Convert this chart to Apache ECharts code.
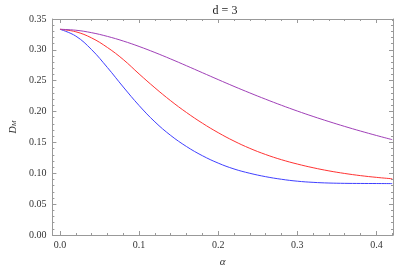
<!DOCTYPE html>
<html><head><meta charset="utf-8">
<script src="https://cdn.jsdelivr.net/npm/echarts@6/dist/echarts.min.js"></script>
<style>html,body{margin:0;padding:0;background:#fff}#c{width:399px;height:273px}</style>
</head><body><div id="c"></div>
<script>
const alpha = [0,0.02,0.04,0.06,0.08,0.10,0.12,0.14,0.16,0.18,0.20,0.22,0.24,0.26,0.28,0.30,0.32,0.34,0.36,0.38,0.40,0.42];
const blueVals = [0.3333,0.3223,0.3003,0.2713,0.2398,0.2098,0.1833,0.1613,0.1433,0.1285,0.1165,0.1070,0.1000,0.0945,0.0903,0.0872,0.0853,0.0842,0.0837,0.0835,0.0834,0.0833];
const redVals = [0.3333,0.3293,0.3193,0.3038,0.2843,0.2610,0.2385,0.2175,0.1984,0.1812,0.1658,0.1522,0.1404,0.1304,0.1220,0.1150,0.1090,0.1039,0.0997,0.0962,0.0934,0.0911];
const purpleVals = [0.3333,0.3318,0.3278,0.3218,0.3143,0.3055,0.2957,0.2852,0.2742,0.2630,0.2518,0.2408,0.2302,0.2200,0.2102,0.2009,0.1921,0.1838,0.1759,0.1684,0.1613,0.1545];
const xMajor = [0,0.1,0.2,0.3,0.4];
const xMinor = [0.02,0.04,0.06,0.08,0.12,0.14,0.16,0.18,0.22,0.24,0.26,0.28,0.32,0.34,0.36,0.38,0.42];

const FONT = '"Liberation Serif", "Times New Roman", Times, serif';
const frame = '#999999';
const labelColor = '#333333';
const XMIN = -0.0096, XMAX = 0.421;

function pairs(ys){ return alpha.map((x,i)=>[x, ys[i]]); }

function xAxisDef(pos, ticks, len, labels, line){
  return {
    type:'value', position:pos, min:XMIN, max:XMAX,
    axisLine:{show:line, onZero:false, lineStyle:{color:frame, width:1}},
    axisTick:{show:true, inside:true, length:len, customValues:ticks, lineStyle:{color:frame}},
    axisLabel:{show:labels, customValues:ticks, fontFamily:FONT, fontSize:10, color:labelColor, margin:5,
      formatter:v=>v.toFixed(1)},
    splitLine:{show:false}
  };
}

const chart = echarts.init(document.getElementById('c'), null, {renderer:'canvas'});
const xb = xAxisDef('bottom', xMajor, 4, true, true);
xb.name = 'α';
xb.nameLocation = 'middle';
xb.nameGap = 22;
xb.nameTextStyle = {fontFamily:FONT, fontStyle:'italic', fontSize:11, color:labelColor};

function yAxisDef(pos, labels){
  return {
    type:'value', position:pos, min:0, max:0.35, interval:0.05,
    axisLine:{show:true, onZero:false, lineStyle:{color:frame, width:1}},
    axisTick:{show:true, inside:true, length:4, lineStyle:{color:frame}},
    minorTick:{show:true, splitNumber:5, length:2, lineStyle:{color:frame}},
    axisLabel:{show:labels, fontFamily:FONT, fontSize:10, color:labelColor, margin:6,
      formatter:v=>v.toFixed(2)},
    splitLine:{show:false}
  };
}
const yl = yAxisDef('left', true);
yl.name = '{d|D}{m|M}';
yl.nameLocation = 'middle';
yl.nameRotate = 90;
yl.nameGap = 30;
yl.nameTextStyle = {rich:{
  d:{fontFamily:FONT, fontStyle:'italic', fontSize:10, color:labelColor},
  m:{fontFamily:FONT, fontStyle:'italic', fontSize:7, color:labelColor, verticalAlign:'bottom', padding:[3,0,0,0]}
}};

chart.setOption({
  animation:false,
  backgroundColor:'#ffffff',
  title:{text:'d = 3', left:220, top:0, textAlign:'center',
    textStyle:{fontFamily:FONT, fontSize:12, fontWeight:'normal', color:'#222'}},
  grid:{left:42, right:6, top:19, bottom:34, containLabel:false},
  xAxis:[
    xb,
    xAxisDef('bottom', xMinor, 2, false, false),
    xAxisDef('top', xMajor, 4, false, true),
    xAxisDef('top', xMinor, 2, false, false)
  ],
  yAxis:[ yl, yAxisDef('right', false) ],
  series:[
    {type:'line', name:'blue', xAxisIndex:0, yAxisIndex:0, data:pairs(blueVals), smooth:0.4, showSymbol:false,
     lineStyle:{color:'#4040ff', width:1}},
    {type:'line', name:'red', xAxisIndex:0, yAxisIndex:0, data:pairs(redVals), smooth:0.4, showSymbol:false,
     lineStyle:{color:'#ff3333', width:1}},
    {type:'line', name:'purple', xAxisIndex:0, yAxisIndex:0, data:pairs(purpleVals), smooth:0.4, showSymbol:false,
     lineStyle:{color:'#a040b8', width:1}}
  ]
});
</script></body></html>
